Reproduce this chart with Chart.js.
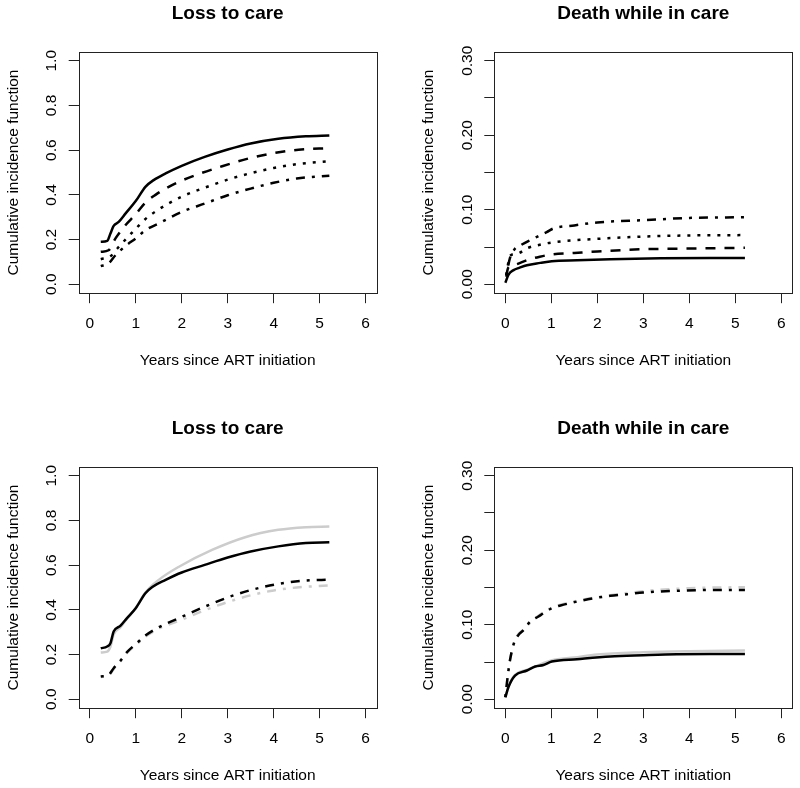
<!DOCTYPE html>
<html><head><meta charset="utf-8">
<script src="https://cdn.jsdelivr.net/npm/chart.js@4/dist/chart.umd.min.js"></script>
<style>
html,body{margin:0;padding:0;background:#fff;}
#wrap{position:relative;width:800px;height:788px;overflow:hidden;background:#fff;}
canvas{position:absolute;}
</style></head><body>
<div id="wrap">
<canvas id="c1" width="400" height="373" style="left:0px;top:0px"></canvas>
<canvas id="c2" width="400" height="373" style="left:400px;top:0px"></canvas>
<canvas id="c3" width="400" height="373" style="left:0px;top:415px"></canvas>
<canvas id="c4" width="400" height="373" style="left:400px;top:415px"></canvas>
</div>
<script>
// ---------- DATA ----------
const titles = ["Loss to care", "Death while in care", "Loss to care", "Death while in care"];
const xAxisLabel = "Years since ART initiation";
const yAxisLabel = "Cumulative incidence function";
const xTicks = [0, 1, 2, 3, 4, 5, 6];
const yTicksLoss = [0, 0.2, 0.4, 0.6, 0.8, 1.0];
const yTicksDeath = [0, 0.05, 0.10, 0.15, 0.20, 0.25, 0.30];
const yLabelsDeath = ["0.00", "", "0.10", "", "0.20", "", "0.30"];

// Panel 1: Loss to care (top)
const p1SolidX   = [0.24, 0.38, 0.45, 0.52, 0.63, 0.78, 1.0, 1.21, 1.39, 1.65, 2.0, 2.5, 3.0, 3.5, 4.1, 4.7, 5.21];
const p1SolidY   = [0.190, 0.194, 0.227, 0.261, 0.279, 0.317, 0.372, 0.436, 0.466, 0.496, 0.530, 0.570, 0.603, 0.630, 0.651, 0.662, 0.666];
const p1DashX    = [0.24, 0.41, 0.56, 0.78, 1.0, 1.21, 1.43, 1.79, 2.3, 2.88, 3.46, 4.04, 4.54, 5.21];
const p1DashY    = [0.145, 0.152, 0.205, 0.265, 0.313, 0.365, 0.400, 0.444, 0.488, 0.528, 0.563, 0.588, 0.602, 0.609];
const p1DotX     = [0.24, 0.45, 0.6, 0.8, 1.0, 1.2, 1.5, 2.0, 2.5, 3.0, 3.5, 4.0, 4.5, 5.21];
const p1DotY     = [0.112, 0.125, 0.160, 0.205, 0.248, 0.290, 0.335, 0.392, 0.432, 0.468, 0.497, 0.520, 0.537, 0.551];
const p1DotDashX = [0.24, 0.41, 0.56, 0.8, 1.0, 1.21, 1.5, 2.0, 2.5, 3.0, 3.5, 4.0, 4.5, 5.21];
const p1DotDashY = [0.081, 0.093, 0.130, 0.175, 0.205, 0.242, 0.272, 0.324, 0.361, 0.398, 0.428, 0.454, 0.473, 0.486];

// Panel 2: Death while in care (top)
const p2SolidX   = [0, 0.07, 0.18, 0.3, 0.47, 0.76, 1.01, 1.56, 2.28, 3.37, 4.45, 5.21];
const p2SolidY   = [0.002, 0.013, 0.019, 0.022, 0.0256, 0.0287, 0.031, 0.0322, 0.0335, 0.0348, 0.0353, 0.0353];
const p2DashX    = [0.02, 0.05, 0.1, 0.25, 0.5, 0.75, 1.0, 1.5, 2.0, 3.0, 4.0, 5.21];
const p2DashY    = [0.010, 0.020, 0.024, 0.027, 0.033, 0.037, 0.040, 0.042, 0.044, 0.047, 0.048, 0.049];
const p2DotX     = [0.02, 0.1, 0.25, 0.5, 0.75, 1.0, 1.5, 2.0, 3.0, 4.0, 5.21];
const p2DotY     = [0.012, 0.038, 0.041, 0.049, 0.053, 0.056, 0.059, 0.061, 0.064, 0.0655, 0.066];
const p2DotDashX = [0.02, 0.1, 0.2, 0.35, 0.5, 0.7, 0.9, 1.05, 1.5, 2.0, 3.0, 4.0, 5.21];
const p2DotDashY = [0.012, 0.035, 0.047, 0.053, 0.058, 0.064, 0.070, 0.075, 0.079, 0.083, 0.086, 0.089, 0.090];

// Panel 3: Loss to care (bottom) — black and grey
const p3SolidX       = [0.24, 0.38, 0.45, 0.52, 0.67, 0.81, 1.0, 1.21, 1.36, 1.65, 2.0, 2.5, 3.0, 3.5, 4.1, 4.7, 5.21];
const p3SolidY       = [0.228, 0.236, 0.251, 0.303, 0.329, 0.363, 0.407, 0.474, 0.502, 0.534, 0.567, 0.601, 0.634, 0.661, 0.684, 0.699, 0.702];
const p3GreySolidX   = [0.24, 0.38, 0.45, 0.52, 0.67, 0.81, 1.0, 1.21, 1.5, 1.94, 2.66, 3.38, 4.1, 4.7, 5.21];
const p3GreySolidY   = [0.209, 0.213, 0.235, 0.290, 0.322, 0.360, 0.408, 0.477, 0.534, 0.593, 0.668, 0.725, 0.758, 0.770, 0.773];
const p3DotDashX     = [0.24, 0.41, 0.52, 0.67, 0.81, 1.03, 1.21, 1.5, 1.94, 2.51, 3.02, 3.53, 4.1, 4.69, 5.21];
const p3DotDashY     = [0.102, 0.109, 0.139, 0.173, 0.211, 0.252, 0.285, 0.322, 0.363, 0.415, 0.457, 0.490, 0.516, 0.531, 0.535];
const p3GreyDotDashX = [0.24, 0.41, 0.52, 0.67, 0.81, 1.03, 1.21, 1.5, 2.0, 2.5, 3.0, 3.5, 4.0, 4.5, 5.21];
const p3GreyDotDashY = [0.100, 0.106, 0.135, 0.170, 0.207, 0.248, 0.280, 0.316, 0.356, 0.398, 0.435, 0.465, 0.487, 0.500, 0.509];

// Panel 4: Death while in care (bottom) — black and grey
const p4SolidX       = [0, 0.07, 0.21, 0.47, 0.65, 0.83, 1.01, 1.56, 2.28, 3.0, 3.73, 4.45, 5.21];
const p4SolidY       = [0.0027, 0.0168, 0.0318, 0.0386, 0.0439, 0.046, 0.0506, 0.0537, 0.0573, 0.059, 0.0604, 0.0608, 0.0608];
const p4GreySolidX   = [0, 0.07, 0.2, 0.5, 1.0, 1.5, 2.0, 3.0, 4.0, 5.21];
const p4GreySolidY   = [0.002, 0.017, 0.032, 0.040, 0.052, 0.056, 0.060, 0.063, 0.0645, 0.0655];
const p4DotDashX     = [0, 0.05, 0.1, 0.2, 0.29, 0.4, 0.54, 0.72, 0.83, 1.01, 1.2, 1.56, 1.93, 2.28, 2.65, 3.0, 3.73, 4.45, 5.21];
const p4DotDashY     = [0.003, 0.030, 0.052, 0.0775, 0.0865, 0.093, 0.1043, 0.111, 0.1155, 0.1222, 0.1258, 0.1312, 0.1357, 0.1388, 0.141, 0.1433, 0.1455, 0.1468, 0.1468];
const p4GreyDotDashX = [0, 0.05, 0.1, 0.2, 0.4, 0.72, 1.01, 1.56, 2.28, 3.0, 4.0, 5.21];
const p4GreyDotDashY = [0.003, 0.030, 0.052, 0.078, 0.094, 0.112, 0.123, 0.132, 0.1395, 0.1450, 0.1490, 0.1505];

// ---------- STYLE ----------
const FONT = '"Liberation Sans", Arial, Helvetica, sans-serif';
Chart.defaults.font.family = FONT;
Chart.defaults.color = '#000';
const TICK_SIZE = 15.5;
const BLACK = '#000000', GREY = '#cccccc';
const LW = 2.5;
const DASH = { solid: [], dashed: [10, 9], dotted: [3, 7], dotdash: [3, 7, 9, 7] };

function pts(xs, ys) { return xs.map((x, i) => ({ x: x, y: ys[i] })); }
function ds(xs, ys, color, style) {
  return { data: pts(xs, ys), borderColor: color, borderWidth: LW, borderDash: DASH[style],
           borderCapStyle: 'butt', pointRadius: 0, fill: false, cubicInterpolationMode: 'monotone' };
}

const mctx = document.createElement('canvas').getContext('2d');
mctx.font = TICK_SIZE + 'px ' + FONT;
function widest(labels) { return Math.max(...labels.map(l => mctx.measureText(l).width)); }

const framePlugin = {
  id: 'frame',
  afterDraw(chart) {
    const a = chart.chartArea, ctx = chart.ctx;
    ctx.save();
    ctx.strokeStyle = '#222'; ctx.lineWidth = 1;
    ctx.strokeRect(Math.round(a.left) + 0.5, Math.round(a.top) + 0.5,
                   Math.round(a.right - a.left), Math.round(a.bottom - a.top));
    ctx.restore();
  }
};

function makePanel(id, title, datasets, yMax, yTickVals, yLabelFn, geom) {
  const yLabels = yTickVals.map(yLabelFn);
  const yPad = geom.labelGap - widest(yLabels) / 2;
  const yMin = -0.04 * yMax, yTop = 1.04 * yMax;
  return new Chart(document.getElementById(id), {
    type: 'line',
    data: { datasets: datasets },
    plugins: [framePlugin],
    options: {
      responsive: false, animation: false, devicePixelRatio: 1,
      layout: { padding: { left: 0, right: geom.padRight, top: 0, bottom: 0 } },
      plugins: {
        legend: { display: false }, tooltip: { enabled: false },
        title: { display: true, text: title, fullSize: false, color: '#000',
                 font: { size: 19, weight: 'bold', lineHeight: 1.2 },
                 padding: { top: 2.7, bottom: 26.3 } }
      },
      scales: {
        x: {
          type: 'linear', min: -0.24, max: 6.24,
          afterBuildTicks: s => { s.ticks = xTicks.map(v => ({ value: v })); },
          afterFit: s => { s.height = 79.8; },
          ticks: { autoSkip: false, minRotation: 0, maxRotation: 0, padding: 11.6, color: '#000',
                   font: { size: TICK_SIZE }, callback: v => String(v) },
          grid: { drawOnChartArea: false, drawTicks: true, tickLength: 10, color: '#222', lineWidth: 1 },
          border: { display: false },
          title: { display: true, text: xAxisLabel, color: '#000', font: { size: TICK_SIZE, lineHeight: 1.2 },
                   padding: { top: 0, bottom: 3 } }
        },
        y: {
          type: 'linear', min: yMin, max: yTop,
          afterBuildTicks: s => { s.ticks = yTickVals.map(v => ({ value: v })); },
          afterFit: s => { s.width = geom.axisW; },
          ticks: { autoSkip: false, minRotation: 90, maxRotation: 90, align: 'end', crossAlign: 'center',
                   padding: yPad, color: '#000', font: { size: TICK_SIZE },
                   callback: (v, i) => yLabels[i] },
          grid: { drawOnChartArea: false, drawTicks: true, tickLength: 10, color: '#222', lineWidth: 1 },
          border: { display: false },
          title: { display: true, text: yAxisLabel, color: '#000', font: { size: TICK_SIZE, lineHeight: 1.2 },
                   padding: { top: geom.yTitlePad, bottom: 0 } }
        }
      }
    }
  });
}

const LEFT = { axisW: 78.7, padRight: 23.3, yTitlePad: 4.3, labelGap: 9.4 };
const RIGHT = { axisW: 94.3, padRight: 7.7, yTitlePad: 19.6, labelGap: 9.0 };
const lossLabel = v => v.toFixed(1);
const deathLabel = (v) => yLabelsDeath[yTicksDeath.indexOf(v)];

makePanel('c1', titles[0], [
  ds(p1SolidX, p1SolidY, BLACK, 'solid'),
  ds(p1DashX, p1DashY, BLACK, 'dashed'),
  ds(p1DotX, p1DotY, BLACK, 'dotted'),
  ds(p1DotDashX, p1DotDashY, BLACK, 'dotdash')
], 1.0, yTicksLoss, lossLabel, LEFT);

makePanel('c2', titles[1], [
  ds(p2SolidX, p2SolidY, BLACK, 'solid'),
  ds(p2DashX, p2DashY, BLACK, 'dashed'),
  ds(p2DotX, p2DotY, BLACK, 'dotted'),
  ds(p2DotDashX, p2DotDashY, BLACK, 'dotdash')
], 0.30, yTicksDeath, deathLabel, RIGHT);

makePanel('c3', titles[2], [
  ds(p3SolidX, p3SolidY, BLACK, 'solid'),
  ds(p3DotDashX, p3DotDashY, BLACK, 'dotdash'),
  ds(p3GreySolidX, p3GreySolidY, GREY, 'solid'),
  ds(p3GreyDotDashX, p3GreyDotDashY, GREY, 'dotdash')
], 1.0, yTicksLoss, lossLabel, LEFT);

makePanel('c4', titles[3], [
  ds(p4SolidX, p4SolidY, BLACK, 'solid'),
  ds(p4DotDashX, p4DotDashY, BLACK, 'dotdash'),
  ds(p4GreySolidX, p4GreySolidY, GREY, 'solid'),
  ds(p4GreyDotDashX, p4GreyDotDashY, GREY, 'dotdash')
], 0.30, yTicksDeath, deathLabel, RIGHT);
</script>
</body></html>
